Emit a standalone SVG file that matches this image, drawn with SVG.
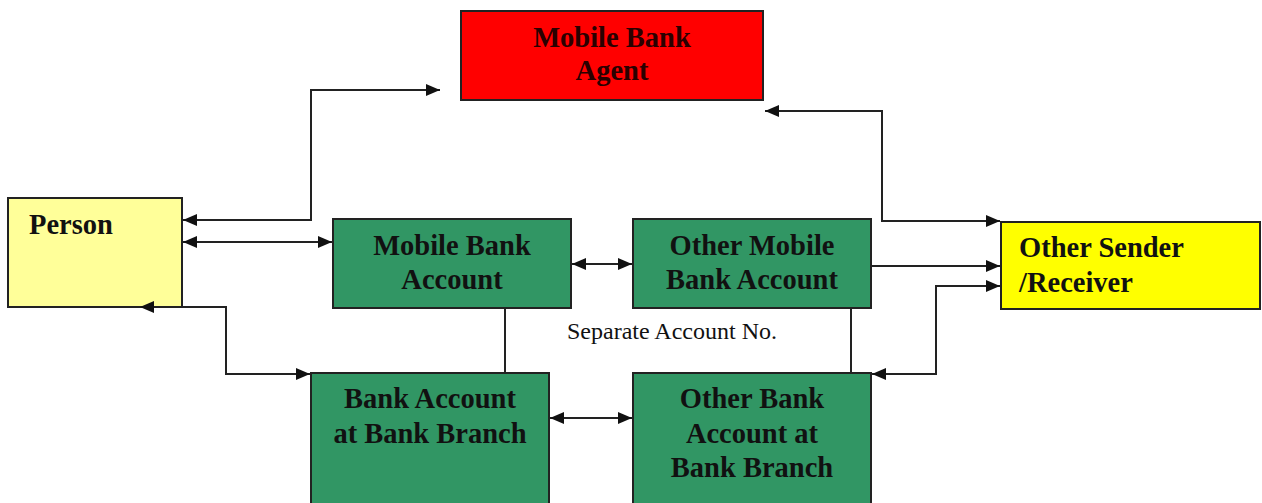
<svg xmlns="http://www.w3.org/2000/svg" width="1262" height="503" viewBox="0 0 1262 503">
<style>
.box{stroke:#222;stroke-width:2}
.t{font-family:"Liberation Serif","Times New Roman",serif;font-weight:bold;font-size:28.5px;fill:#111}
.c{text-anchor:middle}
.conn{fill:none;stroke:#222;stroke-width:2}
.lbl{font-family:"Liberation Serif","Times New Roman",serif;font-size:23px;fill:#111}
</style>
<defs>
<marker id="ah" viewBox="0 0 14 12" refX="14" refY="6" markerWidth="14" markerHeight="12" markerUnits="userSpaceOnUse" orient="auto-start-reverse">
<path d="M0,0 L14,6 L0,12 Z" fill="#111"/>
</marker>
</defs>
<rect width="1262" height="503" fill="#fff"/>
<g id="agent">
<rect class="box" x="461" y="11" width="302" height="89" fill="#ff0000"/>
<text class="t c" x="612" y="47" style="fill:#2a0000">Mobile Bank</text>
<text class="t c" x="612" y="80" style="fill:#2a0000">Agent</text>
</g>
<g id="person">
<rect class="box" x="8" y="198" width="174" height="109" fill="#ffff99"/>
<text class="t" x="29" y="234">Person</text>
</g>
<g id="mobile-bank-account">
<rect class="box" x="333" y="219" width="238" height="89" fill="#319664"/>
<text class="t c" x="452" y="255">Mobile Bank</text>
<text class="t c" x="452" y="289">Account</text>
</g>
<g id="other-mobile-bank-account">
<rect class="box" x="633" y="219" width="238" height="89" fill="#319664"/>
<text class="t c" x="752" y="255">Other Mobile</text>
<text class="t c" x="752" y="289">Bank Account</text>
</g>
<g id="bank-account">
<rect class="box" x="311" y="373" width="238" height="140" fill="#319664"/>
<text class="t c" x="430" y="408">Bank Account</text>
<text class="t c" x="430" y="443">at Bank Branch</text>
</g>
<g id="other-bank-account">
<rect class="box" x="633" y="373" width="238" height="140" fill="#319664"/>
<text class="t c" x="752" y="408">Other Bank</text>
<text class="t c" x="752" y="443">Account at</text>
<text class="t c" x="752" y="477">Bank Branch</text>
</g>
<g id="other-sender">
<rect class="box" x="1001" y="222" width="259" height="87" fill="#ffff00"/>
<text class="t" x="1019" y="257">Other Sender</text>
<text class="t" x="1019" y="292">/Receiver</text>
</g>
<g id="label">
<text class="lbl" x="567" y="339" textLength="210" lengthAdjust="spacingAndGlyphs">Separate Account No.</text>
</g>
<g id="connectors">
<path class="conn" d="M183,220 H311 V90 H440" marker-start="url(#ah)" marker-end="url(#ah)"/>
<path class="conn" d="M183,242 H332" marker-start="url(#ah)" marker-end="url(#ah)"/>
<path class="conn" d="M140,307 H226 V374 H310" marker-start="url(#ah)" marker-end="url(#ah)"/>
<path class="conn" d="M765,111 H882 V221 H1000" marker-start="url(#ah)" marker-end="url(#ah)"/>
<path class="conn" d="M572,264 H632" marker-start="url(#ah)" marker-end="url(#ah)"/>
<path class="conn" d="M550,418 H632" marker-start="url(#ah)" marker-end="url(#ah)"/>
<path class="conn" d="M871,266 H1000" marker-end="url(#ah)"/>
<path class="conn" d="M872,374 H936 V286 H1000" marker-start="url(#ah)" marker-end="url(#ah)"/>
<path class="conn" d="M505,309 V372"/>
<path class="conn" d="M851,309 V372"/>
</g>
</svg>
